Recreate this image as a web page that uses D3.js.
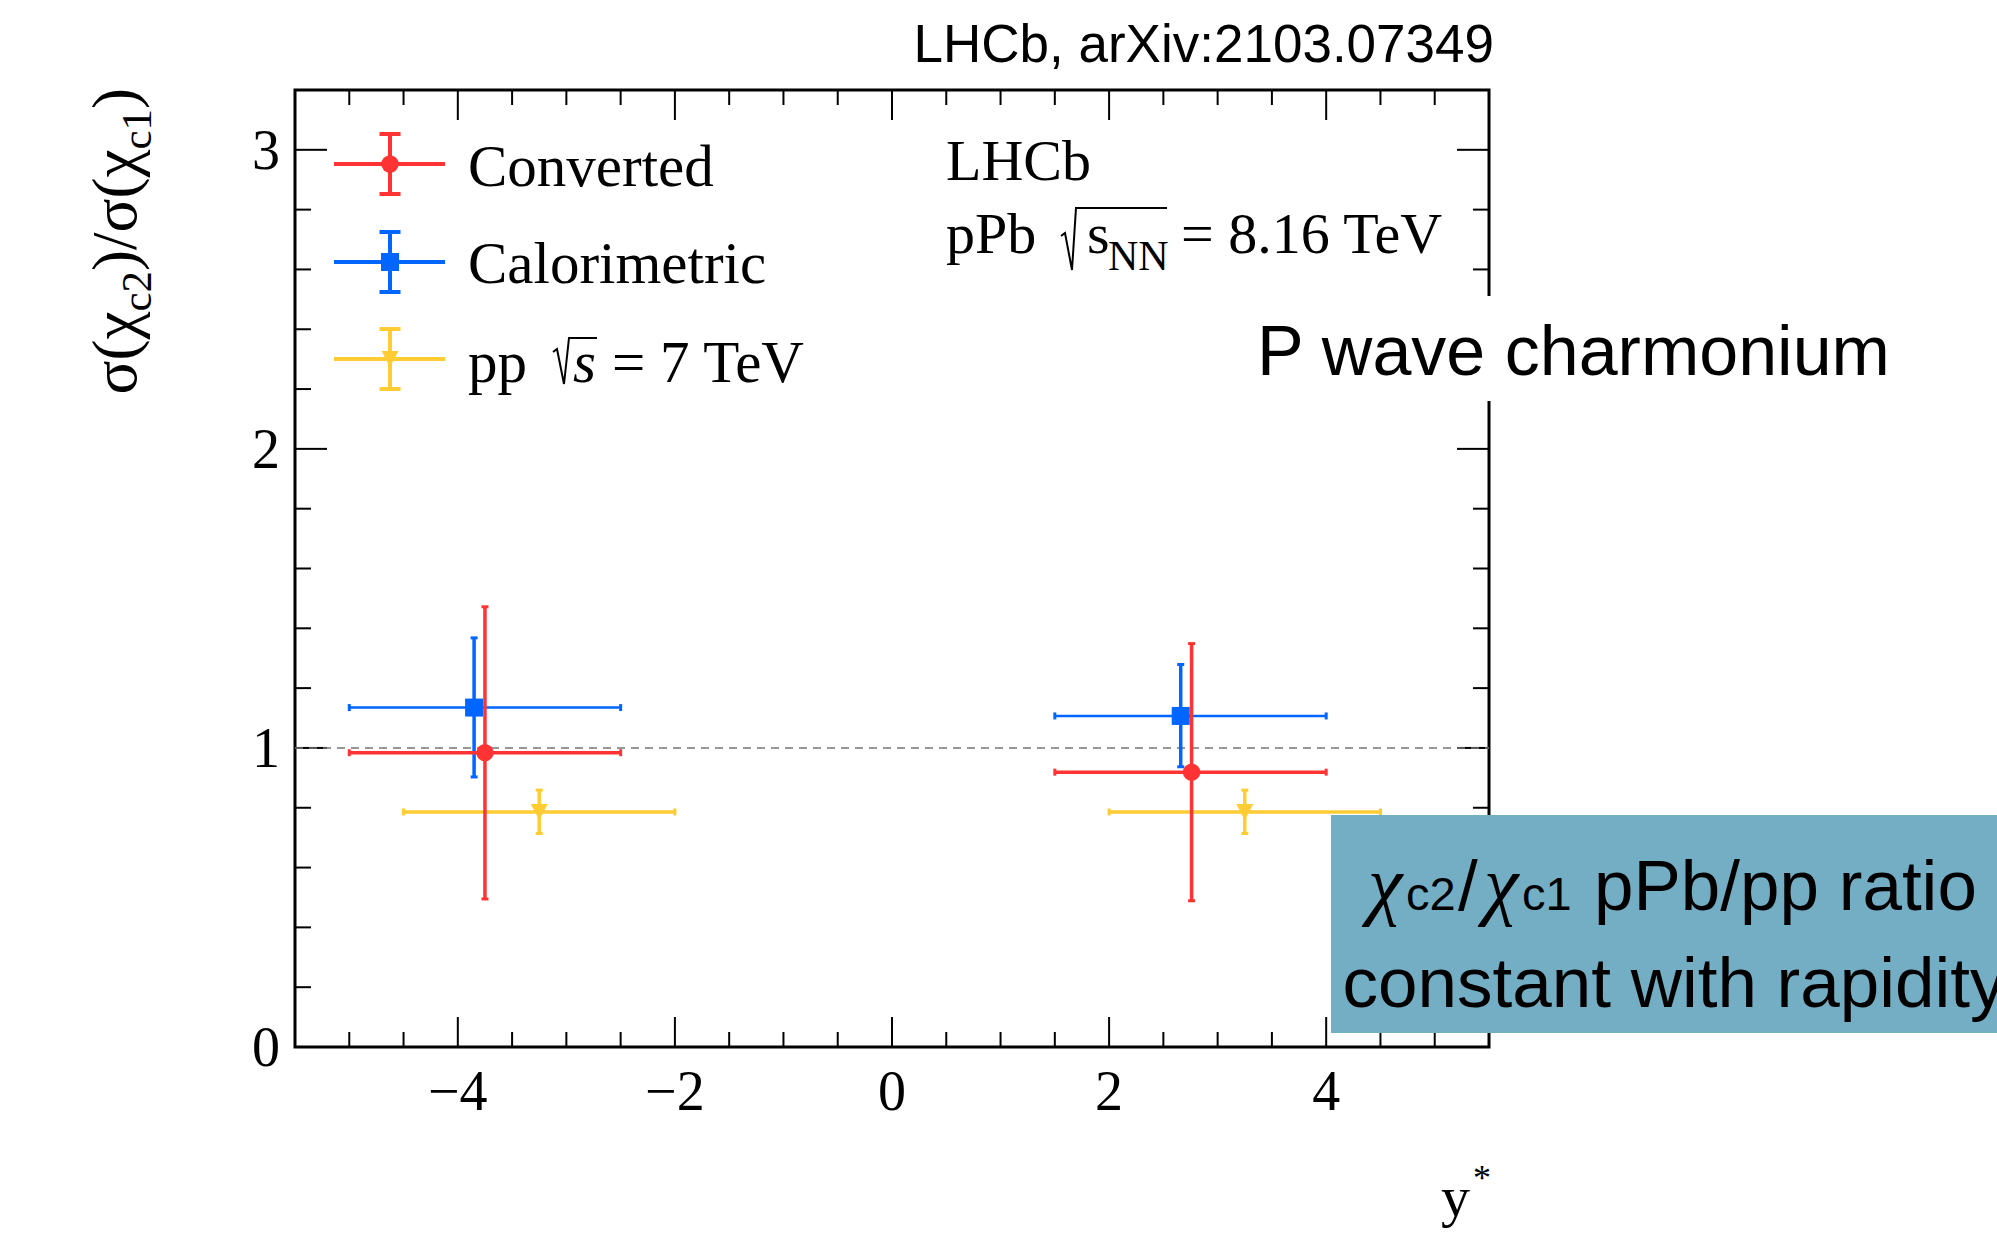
<!DOCTYPE html>
<html><head><meta charset="utf-8">
<script src="https://cdn.jsdelivr.net/npm/d3@7"></script>
<style>body{margin:0;background:#fff;} svg{display:block}</style>
</head><body>
<svg id="c" width="1997" height="1238"></svg>
<script>
// ---- data ----
const xTicks = [-4, -2, 0, 2, 4];
const yTicks = [0, 1, 2, 3];
const xTickLabels = ["\u22124", "\u22122", "0", "2", "4"];
const yTickLabels = ["0", "1", "2", "3"];

const seriesNames = ["Converted", "Calorimetric", "pp"];
const seriesColors = ["#FF3333", "#0066FF", "#FFCC33"];

// pp 7 TeV (drawn first)
const ppX = [-3.25, 3.25];
const ppY = [0.786, 0.786];
const ppXlo = [-4.5, 2.0];
const ppXhi = [-2.0, 4.5];
const ppErrUp = [0.073, 0.073];
const ppErrDn = [0.072, 0.072];

// Calorimetric
const caloX = [-3.85, 2.66];
const caloY = [1.135, 1.107];
const caloXlo = [-5.0, 1.5];
const caloXhi = [-2.5, 4.0];
const caloErrUp = [0.233, 0.172];
const caloErrDn = [0.232, 0.170];

// Converted
const convX = [-3.75, 2.76];
const convY = [0.984, 0.919];
const convXlo = [-5.0, 1.5];
const convXhi = [-2.5, 4.0];
const convErrUp = [0.488, 0.430];
const convErrDn = [0.489, 0.430];

// ---- layout ----
const L = 295, R = 1489, T = 90, B = 1047;
const svg = d3.select("#c");
const x = d3.scaleLinear().domain([-5.5, 5.5]).range([L, R]);
const y = d3.scaleLinear().domain([0, 3.2]).range([B, T]);
const serif = "'Liberation Serif','Times New Roman',serif";
const sans = "'Liberation Sans',Arial,Helvetica,sans-serif";

// ---- ticks ----
const xMinor = d3.range(-5, 5.01, 0.5).filter(v => Math.abs(v - Math.round(v / 2) * 2) > 1e-6);
const yMinor = d3.range(0.2, 3.19, 0.2).filter(v => Math.abs(v - Math.round(v)) > 1e-6);
const tk = svg.append("g").attr("stroke", "#000").attr("stroke-width", 2);
const xMajLen = 30, xMinLen = 15, yMajLen = 32, yMinLen = 16;
xTicks.forEach(v => {
  tk.append("line").attr("x1", x(v)).attr("x2", x(v)).attr("y1", B).attr("y2", B - xMajLen);
  tk.append("line").attr("x1", x(v)).attr("x2", x(v)).attr("y1", T).attr("y2", T + xMajLen);
});
xMinor.forEach(v => {
  tk.append("line").attr("x1", x(v)).attr("x2", x(v)).attr("y1", B).attr("y2", B - xMinLen);
  tk.append("line").attr("x1", x(v)).attr("x2", x(v)).attr("y1", T).attr("y2", T + xMinLen);
});
yTicks.filter(v => v > 0).forEach(v => {
  tk.append("line").attr("y1", y(v)).attr("y2", y(v)).attr("x1", L).attr("x2", L + yMajLen);
  tk.append("line").attr("y1", y(v)).attr("y2", y(v)).attr("x1", R).attr("x2", R - yMajLen);
});
yMinor.forEach(v => {
  tk.append("line").attr("y1", y(v)).attr("y2", y(v)).attr("x1", L).attr("x2", L + yMinLen);
  tk.append("line").attr("y1", y(v)).attr("y2", y(v)).attr("x1", R).attr("x2", R - yMinLen);
});
svg.append("rect").attr("x", L).attr("y", T).attr("width", R - L).attr("height", B - T)
  .attr("fill", "none").attr("stroke", "#000").attr("stroke-width", 3);

// tick labels
svg.append("g").selectAll("text").data(xTicks).join("text")
  .attr("x", d => x(d)).attr("y", 1110).attr("text-anchor", "middle")
  .attr("font-family", serif).attr("font-size", 56).text((d, i) => xTickLabels[i]);
svg.append("g").selectAll("text").data(yTicks).join("text")
  .attr("x", L - 15).attr("y", d => y(d)).attr("dy", "0.34em").attr("text-anchor", "end")
  .attr("font-family", serif).attr("font-size", 56).text((d, i) => yTickLabels[i]);

// axis titles
svg.append("text").attr("x", 1470).attr("y", 1216).attr("text-anchor", "end")
  .attr("font-family", serif).attr("font-size", 58).text("y");
svg.append("text").attr("x", 1473).attr("y", 1190).attr("font-family", serif)
  .attr("font-size", 36).text("*");

const yt = svg.append("text").attr("transform", "translate(136,88) rotate(-90)")
  .attr("text-anchor", "end").attr("font-family", serif).attr("font-size", 63);
yt.append("tspan").text("σ(χ");
yt.append("tspan").attr("font-size", 43).attr("dy", 15).text("c2");
yt.append("tspan").attr("dy", -15).text(")/σ(χ");
yt.append("tspan").attr("font-size", 43).attr("dy", 15).text("c1");
yt.append("tspan").attr("dy", -15).text(")");

// reference line at 1
svg.append("line").attr("x1", L).attr("x2", R).attr("y1", y(1)).attr("y2", y(1))
  .attr("stroke", "#777").attr("stroke-width", 1.6).attr("stroke-dasharray", "8,6");

// ---- data drawing ----
function drawSeries(X, Y, Xlo, Xhi, Eu, Ed, color, hw, vw, marker) {
  const g = svg.append("g").attr("stroke", color).attr("fill", color);
  X.forEach((xv, i) => {
    const cx = x(xv), cy = y(Y[i]);
    g.append("line").attr("x1", x(Xlo[i])).attr("x2", x(Xhi[i])).attr("y1", cy).attr("y2", cy).attr("stroke-width", hw);
    g.append("line").attr("x1", x(Xlo[i])).attr("x2", x(Xlo[i])).attr("y1", cy - 3.5).attr("y2", cy + 3.5).attr("stroke-width", 3);
    g.append("line").attr("x1", x(Xhi[i])).attr("x2", x(Xhi[i])).attr("y1", cy - 3.5).attr("y2", cy + 3.5).attr("stroke-width", 3);
    const yt_ = y(Y[i] + Eu[i]), yb_ = y(Y[i] - Ed[i]);
    g.append("line").attr("x1", cx).attr("x2", cx).attr("y1", yt_).attr("y2", yb_).attr("stroke-width", vw);
    g.append("line").attr("x1", cx - 3.5).attr("x2", cx + 3.5).attr("y1", yt_).attr("y2", yt_).attr("stroke-width", 3);
    g.append("line").attr("x1", cx - 3.5).attr("x2", cx + 3.5).attr("y1", yb_).attr("y2", yb_).attr("stroke-width", 3);
    marker(g, cx, cy);
  });
}
const circ = (g, cx, cy) => g.append("circle").attr("cx", cx).attr("cy", cy).attr("r", 8.7).attr("stroke", "none");
const sq = (g, cx, cy) => g.append("rect").attr("x", cx - 9).attr("y", cy - 9).attr("width", 18).attr("height", 18).attr("stroke", "none");
const tri = (g, cx, cy) => g.append("path").attr("d", `M${cx - 8.5},${cy - 8} L${cx + 8.5},${cy - 8} L${cx},${cy + 8} Z`).attr("stroke", "none");

drawSeries(ppX, ppY, ppXlo, ppXhi, ppErrUp, ppErrDn, seriesColors[2], 3.5, 3.5, tri);
drawSeries(caloX, caloY, caloXlo, caloXhi, caloErrUp, caloErrDn, seriesColors[1], 2.5, 3.5, sq);
drawSeries(convX, convY, convXlo, convXhi, convErrUp, convErrDn, seriesColors[0], 3.5, 3.5, circ);

// ---- legend ----
const legY = [164, 262, 359];
const markers = [circ, sq, tri];
seriesNames.forEach((n, i) => {
  const g = svg.append("g").attr("stroke", seriesColors[i]).attr("fill", seriesColors[i]);
  const cy = legY[i], cx = 390;
  g.append("line").attr("x1", 334).attr("x2", 445).attr("y1", cy).attr("y2", cy).attr("stroke-width", 4);
  g.append("line").attr("x1", cx).attr("x2", cx).attr("y1", cy - 30).attr("y2", cy + 30).attr("stroke-width", 4);
  g.append("line").attr("x1", cx - 10.5).attr("x2", cx + 10.5).attr("y1", cy - 30).attr("y2", cy - 30).attr("stroke-width", 4);
  g.append("line").attr("x1", cx - 10.5).attr("x2", cx + 10.5).attr("y1", cy + 30).attr("y2", cy + 30).attr("stroke-width", 4);
  markers[i](g, cx, cy);
});
const legFont = 59;
svg.append("text").attr("x", 468).attr("y", 186).attr("font-family", serif).attr("font-size", legFont).text(seriesNames[0]);
svg.append("text").attr("x", 468).attr("y", 283).attr("font-family", serif).attr("font-size", legFont).text(seriesNames[1]);
svg.append("text").attr("x", 468).attr("y", 382).attr("font-family", serif).attr("font-size", legFont).text(seriesNames[2]);
svg.append("path").attr("d", "M553,352 L557,349 L564,384 L569,338 L597,338").attr("fill", "none").attr("stroke", "#000").attr("stroke-width", 2);
svg.append("text").attr("x", 573).attr("y", 382).attr("font-family", serif).attr("font-size", legFont).attr("font-style", "italic").text("s");
svg.append("text").attr("x", 612).attr("y", 382).attr("font-family", serif).attr("font-size", legFont).text("= 7 TeV");

// ---- LHCb label ----
svg.append("text").attr("x", 946).attr("y", 180).attr("font-family", serif).attr("font-size", 58).text("LHCb");
svg.append("text").attr("x", 946).attr("y", 253).attr("font-family", serif).attr("font-size", 58).text("pPb");
svg.append("path").attr("d", "M1061,236 L1065,233 L1072,270 L1076,208 L1167,208").attr("fill", "none").attr("stroke", "#000").attr("stroke-width", 2);
svg.append("text").attr("x", 1087).attr("y", 253).attr("font-family", serif).attr("font-size", 58).text("s");
svg.append("text").attr("x", 1108).attr("y", 270).attr("font-family", serif).attr("font-size", 42).text("NN");
svg.append("text").attr("x", 1181).attr("y", 253).attr("font-family", serif).attr("font-size", 58).text("= 8.16 TeV");

// ---- slide annotations ----
svg.append("text").attr("x", 1494).attr("y", 62).attr("text-anchor", "end")
  .attr("font-family", sans).attr("font-size", 53).text("LHCb, arXiv:2103.07349");

svg.append("rect").attr("x", 1250).attr("y", 296).attr("width", 660).attr("height", 105).attr("fill", "#fff");
svg.append("text").attr("x", 1257).attr("y", 375).attr("font-family", sans).attr("font-size", 70).text("P wave charmonium");

svg.append("rect").attr("x", 1331).attr("y", 815).attr("width", 700).attr("height", 218).attr("fill", "#74AEC4");
const l1 = svg.append("text").attr("y", 910).attr("font-family", sans).attr("font-size", 71);
l1.append("tspan").attr("x", 1368).attr("font-style", "italic").attr("font-family", serif).attr("font-size", 78).text("χ");
l1.append("tspan").attr("x", 1406).attr("font-size", 47).text("c2");
l1.append("tspan").attr("x", 1458).text("/");
l1.append("tspan").attr("x", 1484).attr("font-style", "italic").attr("font-family", serif).attr("font-size", 78).text("χ");
l1.append("tspan").attr("x", 1522).attr("font-size", 47).text("c1");
l1.append("tspan").attr("x", 1594).text("pPb/pp ratio");
svg.append("text").attr("x", 1674).attr("y", 1007).attr("text-anchor", "middle")
  .attr("font-family", sans).attr("font-size", 71).text("constant with rapidity");
</script>
</body></html>
